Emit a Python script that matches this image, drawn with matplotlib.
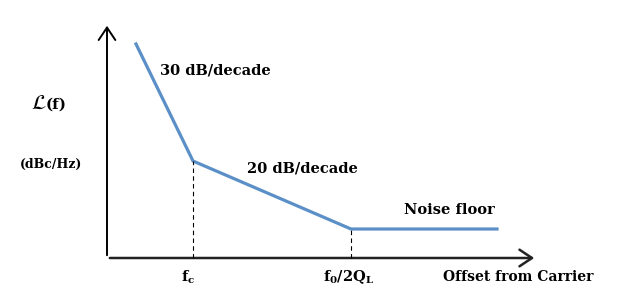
import matplotlib.pyplot as plt
from matplotlib.patches import FancyArrowPatch

plt.rcParams['font.family'] = ['DejaVu Serif']
plt.rcParams['mathtext.fontset'] = 'custom'
plt.rcParams['mathtext.rm'] = 'DejaVu Serif:bold'
plt.rcParams['mathtext.it'] = 'DejaVu Serif:bold'

# piecewise phase-noise curve (arbitrary units: x offset, y level)
curve_x = [29, 86, 244, 390]
curve_y = [214, 97, 29, 29]
corner_labels = ['f$_{c}$', 'f$_{0}$/2Q$_{L}$']
slope_labels = ['30 dB/decade', '20 dB/decade', 'Noise floor']

blue = '#5b8fc7'

fig = plt.figure(figsize=(6.2, 3.06), dpi=100)
ax = fig.add_axes([0, 0, 1, 1])
ax.set_xlim(-107, 513)
ax.set_ylim(-48, 258)
ax.axis('off')

# axes arrows
ax.add_patch(FancyArrowPatch((0, 0), (430, 0), arrowstyle='->,head_length=6,head_width=4',
                             lw=1.8, color='#222222', mutation_scale=1.5))
ax.add_patch(FancyArrowPatch((0, 0), (0, 235), arrowstyle='->,head_length=6,head_width=4',
                             lw=1.4, color='black', mutation_scale=1.5))

ax.plot(curve_x, curve_y, color=blue, lw=2.3, solid_joinstyle='miter')

# dashed drop lines at the corners
for cx, cy in zip(curve_x[1:3], curve_y[1:3]):
    ax.plot([cx, cx], [0, cy], color='black', lw=0.8, ls=(0, (4, 3)))

ax.text(curve_x[1] - 5, -19, corner_labels[0], fontsize=10.5, fontweight='bold', ha='center', va='center')
ax.text(curve_x[2] - 2, -19, corner_labels[1], fontsize=10.5, fontweight='bold', ha='center', va='center')
ax.text(486, -19, 'Offset from Carrier', fontsize=10, fontweight='bold', ha='right', va='center')

ax.text(53, 188, slope_labels[0], fontsize=10.5, fontweight='bold', ha='left', va='center')
ax.text(140, 90, slope_labels[1], fontsize=10.5, fontweight='bold', ha='left', va='center')
ax.text(297, 48, slope_labels[2], fontsize=10.5, fontweight='bold', ha='left', va='center')

ax.text(-76, 155, r'$\mathcal{L}$', fontsize=15, math_fontfamily='stix', ha='left', va='center')
ax.text(-61, 153, '(f)', fontsize=11, fontweight='bold', ha='left', va='center')
ax.text(-87, 94, '(dBc/Hz)', fontsize=9, fontweight='bold', ha='left', va='center')

fig.savefig('out.png', dpi=100)
